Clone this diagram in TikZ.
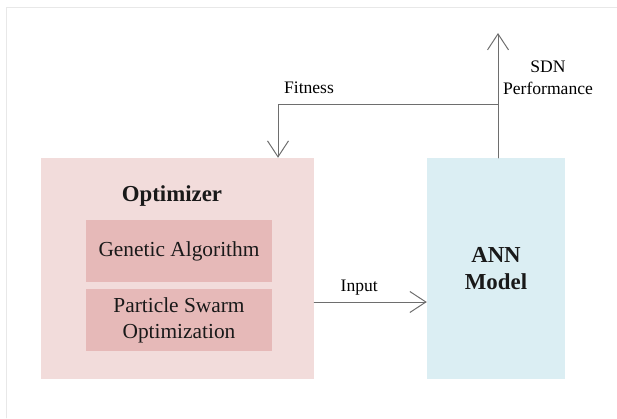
\documentclass[tikz,border=0pt]{standalone}
\usepackage{fontspec}
\setmainfont{Liberation Serif}
\usetikzlibrary{arrows.meta}
\definecolor{optfill}{HTML}{F2DCDB}
\definecolor{algfill}{HTML}{E6B9B8}
\definecolor{annfill}{HTML}{DBEEF3}
\definecolor{linegray}{HTML}{6E6E6E}
\definecolor{framegray}{HTML}{E8E8E8}
\tikzset{
	box/.style={inner sep=0pt,align=center,text=black!90},
	lab/.style={inner sep=0pt,align=center,font=\fontsize{15}{19}\selectfont},
	conn/.style={draw=linegray,line width=0.85pt,-{Straight Barb[length=4.8mm,width=6.3mm]}}
}
\begin{document}
\begin{tikzpicture}[x=0.03cm,y=-0.03cm,line join=round,line cap=round]
	\useasboundingbox (0,0) rectangle (617,418);
	% khung nhat
	\draw[framegray,line width=0.6pt] (6,418)--(6,7)--(617,7);
	% cac hop
	\node[box,fill=optfill,minimum width=8.19cm,minimum height=6.63cm] (opt) at (177.5,268.5) {};
	\node[box,font=\fontsize{19.5}{23}\selectfont\bfseries] (optname) at (172,196) {Optimizer};
	\node[box,fill=algfill,minimum width=5.58cm,minimum height=1.86cm,font=\fontsize{18.25}{22}\selectfont] (ga) at (179,251) {Genetic Algorithm};
	\node[box,fill=algfill,minimum width=5.58cm,minimum height=1.86cm,font=\fontsize{18.25}{22}\selectfont] (pso) at (179,320) {Particle Swarm\\Optimization};
	\node[box,fill=annfill,minimum width=4.14cm,minimum height=6.63cm,font=\fontsize{19.5}{23}\selectfont\bfseries] (ann) at (496,268.5) {ANN\\Model};
	% diem phu
	\path (498,33) coordinate (out)
		(278,104) coordinate (fit);
	% cac mui ten
	\draw[conn] (opt.east |- 0,302) -- (ann.west |- 0,302) node[lab,pos=0.4,above=5pt] (input) {Input};
	\draw[conn] (ann.north -| out) -- (out);
	\draw[conn] (out |- fit) -- (fit) -- (fit |- opt.north);
	\node[lab] (fitness) at (309,88) {Fitness};
	\node[lab] (perf) at (548,78) {SDN\\Performance};
\end{tikzpicture}
\end{document}
